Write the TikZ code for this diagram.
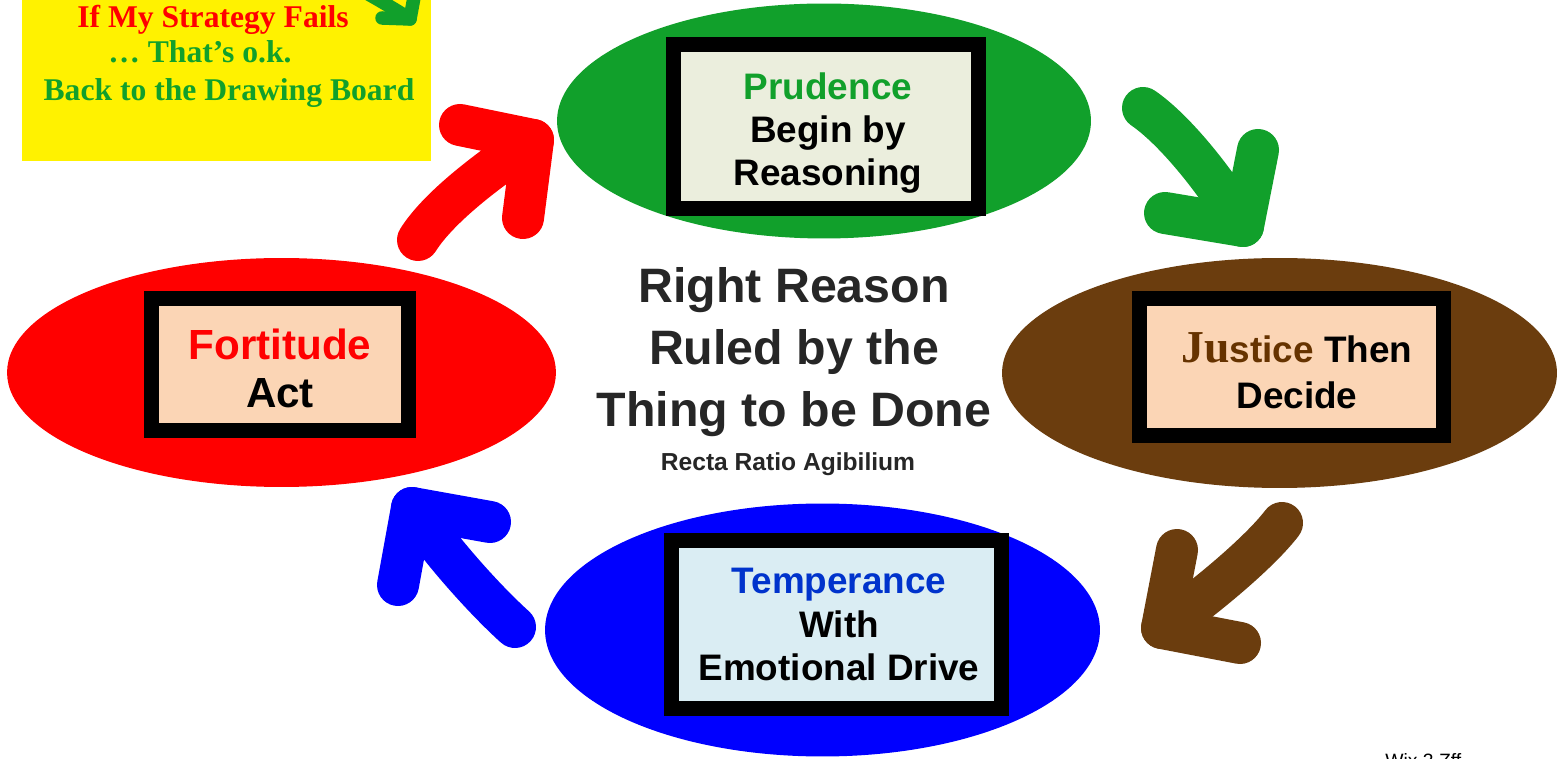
\documentclass[tikz,border=0pt]{standalone}
\usepackage{fontspec}
\setmainfont{Liberation Sans}
\newfontfamily\timesfont{Liberation Serif}
\usetikzlibrary{shapes.geometric}

\definecolor{virtgreen}{RGB}{17,160,43}
\definecolor{virtbrown}{RGB}{107,61,14}
\definecolor{justbrown}{RGB}{102,51,0}
\definecolor{tempblue}{RGB}{0,51,204}
\definecolor{prudfill}{RGB}{235,238,221}
\definecolor{peach}{RGB}{251,213,181}
\definecolor{tempfill}{RGB}{218,237,243}
\definecolor{titlegray}{RGB}{38,38,38}

\begin{document}
\begin{tikzpicture}[x=0.02cm,y=-0.02cm,
  oval/.style={ellipse, inner sep=0pt, outer sep=0pt},
  virtbox/.style={draw=black, line width=0.3cm, inner sep=0pt},
  caption/.style={align=center, inner sep=0pt, font=\bfseries\fontsize{21}{24.5}\selectfont},
  fatarrow/.style={line width=0.84cm, line cap=round, line join=round},
  thinarrow/.style={line width=0.27cm, line cap=round, line join=round},
  notetext/.style={anchor=base, font=\timesfont\bfseries\fontsize{18}{21}\selectfont}
]
\useasboundingbox (0,0) rectangle (1564,759);
\fill[white] (0,0) rectangle (1564,759);

% note in the corner
\node[fill=yellow, minimum width=8.18cm, minimum height=3.3cm, inner sep=0pt] (note) at (226.5,78.5) {};
\node[notetext, text=red] (note1) at (213,28) {If My Strategy Fails};
\node[notetext, text=virtgreen] (note2) at (200,63) {… That’s o.k.};
\node[notetext, text=virtgreen] (note3) at (229,101) {Back to the Drawing Board};

% small arrow inside the note
\coordinate (mS) at (340,-22);
\coordinate (mC) at (410,19);
\coordinate (mB1) at (382,18);
\coordinate (mB2) at (415,-8);
\draw[thinarrow, virtgreen] (mS) .. controls (365,-8) and (390,6) .. (mC);
\draw[thinarrow, virtgreen] (mB1) -- (mC) -- (mB2);

% the four virtues
\node[oval, fill=virtgreen, minimum width=10.68cm, minimum height=4.7cm] (prudO) at (824,121) {};
\node[oval, fill=red, minimum width=10.98cm, minimum height=4.58cm] (fortO) at (281.5,372.5) {};
\node[oval, fill=virtbrown, minimum width=11.1cm, minimum height=4.6cm] (justO) at (1279.5,373) {};
\node[oval, fill=blue, minimum width=11.1cm, minimum height=5.06cm] (tempO) at (822.5,630) {};

% curved arrows between the virtues
\coordinate (rS) at (418,240);
\coordinate (rC) at (533,140);
\coordinate (rB1) at (460,125);
\coordinate (rB2) at (523,218);
\draw[fatarrow, red] (rS) .. controls (440,205) and (495,165) .. (rC);
\draw[fatarrow, red] (rB1) -- (rC) -- (rB2);

\coordinate (gS) at (1143,108);
\coordinate (gC) at (1243,226);
\coordinate (gB1) at (1258,150);
\coordinate (gB2) at (1165,213);
\draw[fatarrow, virtgreen] (gS) .. controls (1175,130) and (1215,180) .. (gC);
\draw[fatarrow, virtgreen] (gB1) -- (gC) -- (gB2);

\coordinate (bS) at (1282,523);
\coordinate (bC) at (1162,628);
\coordinate (bB1) at (1177,550);
\coordinate (bB2) at (1240,643);
\draw[fatarrow, virtbrown] (bS) .. controls (1260,552) and (1205,598) .. (bC);
\draw[fatarrow, virtbrown] (bB1) -- (bC) -- (bB2);

\coordinate (uS) at (515,627);
\coordinate (uC) at (412,508);
\coordinate (uB1) at (490,522);
\coordinate (uB2) at (398,585);
\draw[fatarrow, blue] (uS) .. controls (485,600) and (440,550) .. (uC);
\draw[fatarrow, blue] (uB1) -- (uC) -- (uB2);

% framed captions
\node[virtbox, fill=prudfill, minimum width=6.1cm, minimum height=3.28cm] (prud) at (826,126.5) {};
\node[virtbox, fill=peach, minimum width=5.14cm, minimum height=2.64cm] (fort) at (280,364.5) {};
\node[virtbox, fill=peach, minimum width=6.08cm, minimum height=2.74cm] (just) at (1291.5,367) {};
\node[virtbox, fill=tempfill, minimum width=6.6cm, minimum height=3.36cm] (temp) at (836.5,624.5) {};

\node[caption] (prudT) at (828,133)
  {\textcolor{virtgreen}{Prudence}\\ Begin by\\Reasoning};
\node[caption, font=\bfseries\fontsize{24}{27.3}\selectfont] (fortT) at (280,368)
  {\textcolor{red}{Fortitude}\\Act};
\node[caption, font=\bfseries\fontsize{21}{26.2}\selectfont] (justT) at (1297,371)
  {\textcolor{justbrown}{{\timesfont\fontsize{26}{24.5}\selectfont Ju}stice} Then\\Decide};
\node[caption] (tempT) at (839,624.5)
  {\textcolor{tempblue}{Temperance}\\With\\Emotional Drive};

% central motto
\node[font=\bfseries\fontsize{27.5}{35.3}\selectfont, text=titlegray, align=center] (motto) at (794,352)
  {Right Reason\\Ruled by the\\Thing to be Done};
\node[font=\bfseries\fontsize{14}{16}\selectfont, text=titlegray] (latin) at (788,464) {Recta Ratio Agibilium};

% signature at the lower edge
\node[anchor=base west, font=\fontsize{11}{13}\selectfont, inner sep=0pt] (sig) at (1385,767) {Wix 3 Zff};
\end{tikzpicture}
\end{document}
